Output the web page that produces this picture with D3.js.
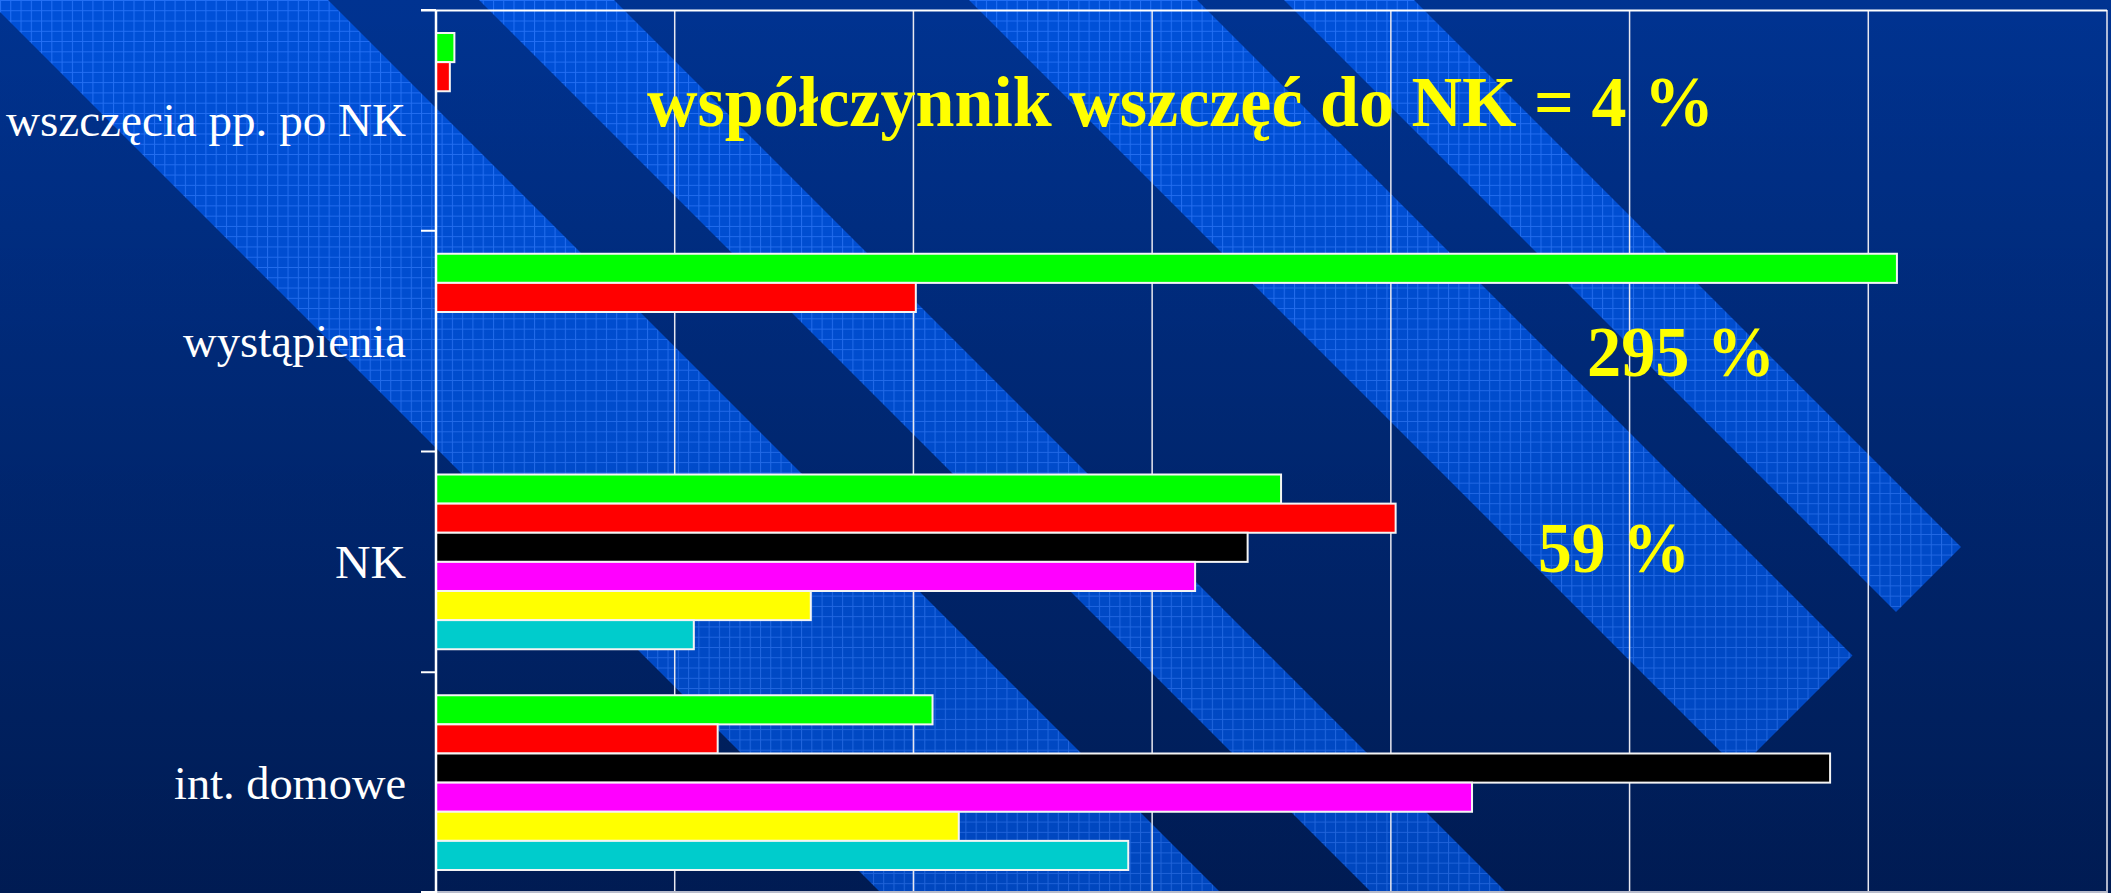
<!DOCTYPE html>
<html>
<head>
<meta charset="utf-8">
<script src="https://cdn.jsdelivr.net/npm/d3@7"></script>
<style>
  body { margin: 0; overflow: hidden; background: #00308a; }
  svg { display: block; }
</style>
</head>
<body>
<div id="chart"></div>
<script>
// categories on the y axis, top to bottom
var categories = ['wszczęcia pp. po NK', 'wystąpienia', 'NK', 'int. domowe'];

// one array per series (bar colour), one value per category, null = no bar
var seriesNames = ['seria 1', 'seria 2', 'seria 3', 'seria 4', 'seria 5', 'seria 6'];
var seriesColors = ['#00ff00', '#ff0000', '#000000', '#ff00ff', '#ffff00', '#00cccc'];
var seria1 = [0.077, 6.12, 3.54, 2.08];
var seria2 = [0.058, 2.01, 4.02, 1.18];
var seria3 = [null, null, 3.40, 5.84];
var seria4 = [null, null, 3.18, 4.34];
var seria5 = [null, null, 1.57, 2.19];
var seria6 = [null, null, 1.08, 2.90];
var seriesValues = [seria1, seria2, seria3, seria4, seria5, seria6];

// x axis has gridlines only, no labels
var xMax = 7;

var W = 2111, H = 893;
var margin = {top: 10, right: 4, bottom: 0, left: 436};

var svg = d3.select('#chart').append('svg')
    .attr('width', W)
    .attr('height', H);

var defs = svg.append('defs');

var bg = defs.append('linearGradient')
    .attr('id', 'bg').attr('x1', 0).attr('y1', 0).attr('x2', 0).attr('y2', 1);
bg.append('stop').attr('offset', '0%').attr('stop-color', '#003391');
bg.append('stop').attr('offset', '100%').attr('stop-color', '#001f5e');

// the little grid texture on the light stripes
var cell = 10.27;
var pat = defs.append('pattern')
    .attr('id', 'grid')
    .attr('width', cell).attr('height', cell)
    .attr('patternUnits', 'userSpaceOnUse');
pat.append('rect').attr('width', cell).attr('height', cell).attr('fill', '#0050d8');
pat.append('path')
    .attr('d', 'M0 0.5H' + cell + 'M0.5 0V' + cell)
    .attr('stroke', '#2f7bff').attr('stroke-width', 1).attr('opacity', 0.75);

svg.append('rect').attr('width', W).attr('height', H).attr('fill', 'url(#bg)');

// diagonal background stripes: edges are lines x - y = c, cut off at x + y = K
var stripes = [[-12, 328], [479, 614], [969, 1197], [1284, 1414]];
var K = 2508;
svg.append('g').selectAll('polygon')
    .data(stripes)
    .enter().append('polygon')
    .attr('points', function (d) {
        return [[d[0] - 100, -100], [d[1] - 100, -100],
                [(d[1] + K) / 2, (K - d[1]) / 2], [(d[0] + K) / 2, (K - d[0]) / 2]].join(' ');
    })
    .attr('fill', 'url(#grid)');

var shade = defs.append('linearGradient')
    .attr('id', 'shade').attr('x1', 0).attr('y1', 0).attr('x2', 0).attr('y2', 1);
shade.append('stop').attr('offset', '0%').attr('stop-color', '#000').attr('stop-opacity', 0);
shade.append('stop').attr('offset', '100%').attr('stop-color', '#000').attr('stop-opacity', 0.12);
svg.append('rect').attr('width', W).attr('height', H).attr('fill', 'url(#shade)');

var x = d3.scaleLinear()
    .domain([0, xMax])
    .range([margin.left, W - margin.right]);

var y = d3.scaleBand()
    .domain(categories)
    .range([margin.top, H - margin.bottom]);

var ySeries = d3.scaleBand()
    .domain(seriesNames)
    .range([0, y.bandwidth()])
    .paddingOuter(0.79);

// vertical gridlines
svg.append('g').selectAll('line')
    .data(x.ticks(xMax).slice(1))
    .enter().append('line')
    .attr('x1', function (d) { return x(d); })
    .attr('x2', function (d) { return x(d); })
    .attr('y1', margin.top)
    .attr('y2', H)
    .attr('stroke', '#e8e8f0')
    .attr('stroke-width', 1.5);

// top and bottom border of the plot area
svg.append('g').selectAll('line')
    .data(y.range())
    .enter().append('line')
    .attr('x1', margin.left - 15)
    .attr('x2', x(xMax))
    .attr('y1', function (d, i) { return i ? d - 1 : d + 0.5; })
    .attr('y2', function (d, i) { return i ? d - 1 : d + 0.5; })
    .attr('stroke', function (d, i) { return i ? '#b8bccc' : '#ffffff'; })
    .attr('stroke-width', 2);

// bars
var rows = categories.map(function (c, ci) {
    return seriesNames.map(function (s, si) {
        return {cat: c, series: s, color: seriesColors[si], value: seriesValues[si][ci]};
    }).filter(function (d) { return d.value != null; });
});

var groups = svg.append('g').selectAll('g')
    .data(rows)
    .enter().append('g')
    .attr('transform', function (d, i) { return 'translate(0,' + y(categories[i]) + ')'; });

groups.selectAll('rect')
    .data(function (d) { return d; })
    .enter().append('rect')
    .attr('x', x(0))
    .attr('y', function (d) { return ySeries(d.series); })
    .attr('width', function (d) { return x(d.value) - x(0); })
    .attr('height', ySeries.bandwidth())
    .attr('fill', function (d) { return d.color; })
    .attr('stroke', '#f4f4f4')
    .attr('stroke-width', 2);

// category axis with ticks between the categories
var yAxis = svg.append('g')
    .attr('transform', 'translate(' + x(0) + ',0)')
    .call(d3.axisLeft(y).tickSize(0).tickPadding(30));
yAxis.select('.domain').remove();
var labelWidths = [400, 223, 71, 232];
yAxis.selectAll('.tick text')
    .attr('fill', '#ffffff')
    .attr('font-family', '"Liberation Serif", "Times New Roman", serif')
    .attr('font-size', 46)
    .attr('dy', '0.35em')
    .attr('textLength', function (d, i) { return labelWidths[i]; })
    .attr('lengthAdjust', 'spacingAndGlyphs');

var bounds = categories.map(function (c) { return y(c); }).concat([y.range()[1] - 1]);
svg.append('g').selectAll('line')
    .data(bounds)
    .enter().append('line')
    .attr('x1', x(0) - 15)
    .attr('x2', x(0))
    .attr('y1', function (d) { return d; })
    .attr('y2', function (d) { return d; })
    .attr('stroke', '#ffffff')
    .attr('stroke-width', 2);

svg.append('line')
    .attr('x1', x(0)).attr('x2', x(0))
    .attr('y1', margin.top).attr('y2', H)
    .attr('stroke', '#ffffff')
    .attr('stroke-width', 2.5);

// yellow annotations
var notes = [
    {text: 'współczynnik wszczęć do NK = 4 %', x: 647, y: 126, w: 1067},
    {text: '295 %', x: 1587, y: 376, w: 188},
    {text: '59 %', x: 1538, y: 572, w: 152}
];
svg.append('g').selectAll('text')
    .data(notes)
    .enter().append('text')
    .attr('x', function (d) { return d.x; })
    .attr('y', function (d) { return d.y; })
    .attr('textLength', function (d) { return d.w; })
    .attr('lengthAdjust', 'spacingAndGlyphs')
    .attr('fill', '#ffff00')
    .attr('font-family', '"Liberation Serif", "Times New Roman", serif')
    .attr('font-weight', 'bold')
    .attr('font-size', 72)
    .text(function (d) { return d.text; });
</script>
</body>
</html>
